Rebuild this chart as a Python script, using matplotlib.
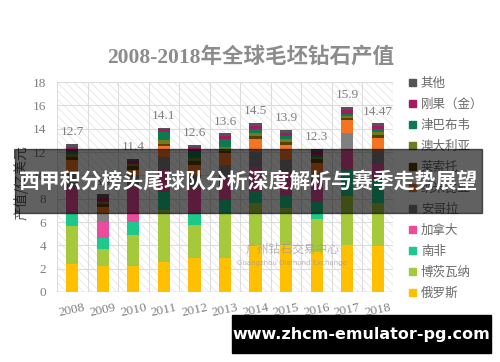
import matplotlib
matplotlib.use("Agg")
import matplotlib.pyplot as plt
import numpy as np
from matplotlib.patches import Rectangle, Patch

# ---- data (亿美元), bottom-up stacking order ----
years = ['2008', '2009', '2010', '2011', '2012', '2013', '2014', '2015', '2016', '2017', '2018']
totals = [12.7, 8.4, 11.4, 14.1, 12.6, 13.6, 14.5, 13.9, 12.3, 15.9, 14.47]

russia    = [2.4, 2.25, 2.25, 2.6, 2.9, 2.9, 4.0, 4.0, 3.45, 4.0, 3.9]
botswana  = [3.3, 1.45, 2.65, 4.4, 2.85, 3.9, 3.6, 3.2, 2.85, 4.2, 3.7]
s_africa  = [1.1, 0.9, 1.1, 1.6, 0.95, 1.1, 1.1, 1.0, 1.4, 2.25, 2.0]
canada    = [2.1, 1.4, 3.0, 1.85, 2.3, 1.9, 2.0, 2.0, 1.7, 1.7, 1.4]
angola    = [1.5, 0.8, 1.0, 1.15, 1.0, 1.1, 1.3, 1.1, 0.8, 1.45, 1.1]
namibia   = [0.9, 0.5, 0.5, 0.95, 0.9, 1.0, 1.1, 1.3, 0.9, 1.15, 1.1]
lesotho   = [0.3, 0.25, 0.3, 0.1, 0.3, 0.2, 0.3, 0.3, 0.3, 0.15, 0.3]
australia = [0.2, 0.15, 0.15, 0.35, 0.3, 0.3, 0.2, 0.2, 0.2, 0.15, 0.2]
zimbabwe  = [0.2, 0.1, 0.15, 0.7, 0.6, 0.75, 0.35, 0.3, 0.15, 0.2, 0.3]
drc       = [0.45, 0.3, 0.15, 0.25, 0.3, 0.25, 0.3, 0.25, 0.3, 0.35, 0.25]
others    = [0.25, 0.3, 0.15, 0.15, 0.2, 0.2, 0.25, 0.25, 0.25, 0.3, 0.22]

series = [russia, botswana, s_africa, canada, angola, namibia,
          lesotho, australia, zimbabwe, drc, others]
names = ['俄罗斯', '博茨瓦纳', '南非', '加拿大', '安哥拉', '纳米比亚',
         '莱索托', '澳大利亚', '津巴布韦', '刚果（金）', '其他']
colors = ['#FFC000', '#A5C93A', '#1CC98A', '#EC4A9C', '#808080', '#F47420',
          '#5C3D05', '#6E7B1E', '#0C7A4E', '#A11A62', '#545454']

serif = ['Liberation Serif', 'Noto Sans CJK SC']
cjk = ['Noto Sans CJK SC', 'DejaVu Sans']
grey = '#7f7f7f'
plt.rcParams['hatch.linewidth'] = 0.6

fig = plt.figure(figsize=(5, 3.62), dpi=100)
ax = fig.add_axes([0.114, 0.1934, 0.672, 0.58])

x = np.arange(len(years))
ax.add_patch(Rectangle((-0.5, 0), len(years), 18, fill=False, hatch='\\\\\\\\',
                       edgecolor='#e6e6e6', lw=0, zorder=0))

bottom = np.zeros(len(years))
for vals, name, c in zip(series, names, colors):
    ax.bar(x, vals, 0.4, bottom=bottom, color=c, label=name, zorder=3)
    bottom += np.array(vals)

for i, t in enumerate(totals):
    ax.text(x[i], t + 1.0, f'{t:g}', ha='center', va='center', fontsize=9.5,
            family=serif, color=grey, zorder=4)

ax.set_xlim(-0.5, len(years) - 0.5)
ax.set_ylim(0, 18)
ax.set_yticks(range(0, 19, 2))
ax.set_xticks(x)
ax.set_xticklabels(years, rotation=12, family=serif, fontsize=9.5, color=grey)
ax.set_xticks(np.arange(-0.5, len(years), 1), minor=True)
for lab in ax.get_yticklabels():
    lab.set_family(serif)
    lab.set_fontsize(9.5)
    lab.set_color(grey)
ax.tick_params(axis='both', which='both', length=0)
ax.tick_params(axis='y', pad=8)
ax.tick_params(axis='x', pad=7)
ax.grid(axis='y', color='#dcdcdc', lw=0.8, zorder=1)
ax.grid(axis='x', which='minor', color='#dcdcdc', lw=0.8, zorder=1)
for s in ax.spines.values():
    s.set_visible(False)
ax.axhline(0, color='#d0d0d0', lw=1, zorder=2)

ax.set_ylabel('产值/亿美元', family=cjk, fontsize=10, color='#595959')
ax.yaxis.set_label_coords(-0.085, 0.52)

# watermark
ax.text(7.2, 3.7, '广州钻石交易中心', ha='center', va='center', fontsize=8.5,
        family=cjk, color='#9a9a9a', alpha=0.7, zorder=5)
ax.text(7.2, 2.5, 'Guangzhou Diamond Exchange', ha='center', va='center', fontsize=5,
        color='#9a9a9a', alpha=0.7, zorder=5)

fig.text(0.502, 0.8425, '2008-2018年全球毛坯钻石产值', ha='center', va='center',
         fontsize=15.5, fontweight='bold', family=serif, color='#8c8c8c')

handles = [Patch(color=c) for c in colors][::-1]
fig.legend(handles, names[::-1], loc='upper left', bbox_to_anchor=(0.818, 0.787),
           frameon=False, handlelength=0.55, handleheight=0.55, handletextpad=0.4,
           labelspacing=0.64, prop={'family': cjk, 'size': 9}, labelcolor='#6a6a6a',
           borderaxespad=0, borderpad=0)

# overlay banners
fig.patches.append(Rectangle((0.03, 0.4116), 0.934, 0.1768, transform=fig.transFigure,
                             color='black', alpha=0.62, zorder=10))
fig.text(0.497, 0.5, '西甲积分榜头尾球队分析深度解析与赛季走势展望', ha='center', va='center',
         fontsize=15, fontweight='bold', family=cjk, color='white', zorder=11)
fig.patches.append(Rectangle((0.464, 0.0249), 0.518, 0.105, transform=fig.transFigure,
                             color='black', zorder=10))
fig.text(0.723, 0.0773, 'www.zhcm-emulator-pg.com', ha='center', va='center',
         fontsize=11.5, fontweight='bold', family=['DejaVu Sans'], color='white', zorder=11)

fig.savefig('out.png', dpi=100, facecolor='white')
